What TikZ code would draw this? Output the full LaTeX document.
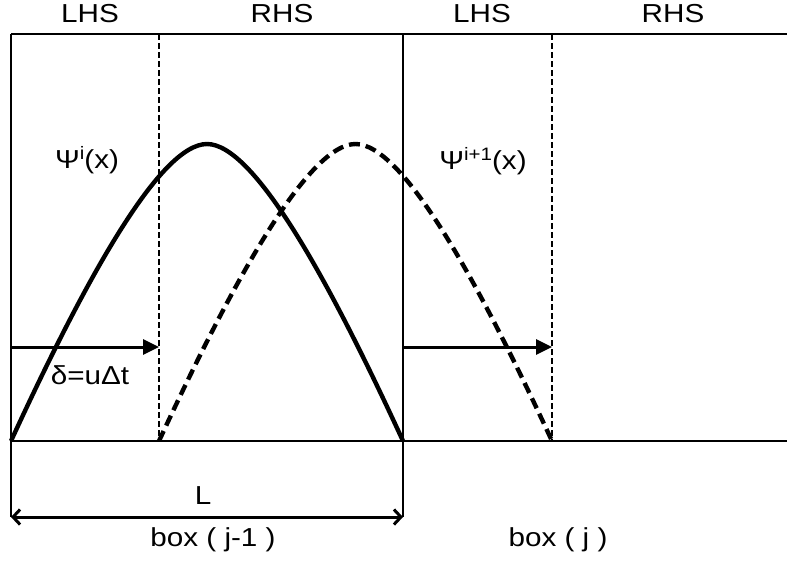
\documentclass[tikz,border=0pt]{standalone}
\usepackage{fontspec}
\setmainfont{Liberation Sans}[FakeStretch=1.14]
\usetikzlibrary{arrows.meta}
\newcommand{\supx}[1]{\raisebox{9pt}{\fontsize{18}{19}\selectfont #1}}
\begin{document}
\begin{tikzpicture}[x=1pt,y=-1pt,
  boxline/.style={line width=2.6pt},
  divline/.style={line width=2.6pt, dash pattern=on 6pt off 3pt},
  thinline/.style={line width=1.8pt},
  wave/.style={line width=4.4pt, line join=round},
  wavedash/.style={wave, dash pattern=on 11pt off 6pt},
  shiftarrow/.style={line width=3pt, -{Triangle[length=16pt,width=15pt]}},
  lenarrow/.style={line width=3pt, {Straight Barb[length=7pt,width=15pt,line width=3pt]}-{Straight Barb[length=7pt,width=15pt,line width=3pt]}},
  lbl/.style={font=\fontsize{26}{30}\selectfont, inner sep=0pt}]
\useasboundingbox (0,0) rectangle (787,566);
% frame coordinates
\coordinate (tl) at (11,34);
\coordinate (tr) at (787,34);
\coordinate (bl) at (11,441);
\coordinate (br) at (787,441);
\coordinate (d1t) at (159,34);
\coordinate (d1b) at (159,441);
\coordinate (s2t) at (403,34);
\coordinate (s2b) at (403,441);
\coordinate (d2t) at (552,34);
\coordinate (d2b) at (552,441);
\coordinate (l1) at (11,517);
\coordinate (l2) at (403,517);
\coordinate (a1s) at (11,347);
\coordinate (a1e) at (159,347);
\coordinate (a2s) at (403,347);
\coordinate (a2e) at (552,347);
% frame
\draw[boxline] (tl) -- (tr);
\draw[boxline] (bl) -- (br);
\draw[boxline] (tl) -- (bl);
\draw[boxline] (s2t) -- (s2b);
\draw[divline] (d1t) -- (d1b);
\draw[divline] (d2t) -- (d2b);
\draw[thinline] (bl) -- (l1);
\draw[thinline] (s2b) -- (l2);
% waves
\draw[wave] (bl) .. controls (85,280) and (160,144) .. (207,144) .. controls (254,144) and (329,280) .. (s2b);
\draw[wavedash] (d1b) .. controls (233.5,280) and (308.5,144) .. (355.5,144) .. controls (402.5,144) and (477.5,280) .. (d2b);
% arrows
\draw[shiftarrow] (a1s) -- (a1e);
\draw[shiftarrow] (a2s) -- (a2e);
\draw[lenarrow] (l1) -- (l2);
% labels
\node[lbl] (lhs1) at (90,14) {LHS};
\node[lbl] (rhs1) at (282,14) {RHS};
\node[lbl] (lhs2) at (482,14) {LHS};
\node[lbl] (rhs2) at (673,14) {RHS};
\node[lbl] (psi1) at (87,160) {Ψ\supx{i}(x)};
\node[lbl] (psi2) at (483,161) {Ψ\supx{i+1}(x)};
\node[lbl] (delta) at (90,375) {δ=uΔt};
\node[lbl] (len) at (203,496) {L};
\node[lbl] (box1) at (213,540) {box ( j-1 )};
\node[lbl] (box2) at (558,540) {box ( j )};
\end{tikzpicture}
\end{document}
